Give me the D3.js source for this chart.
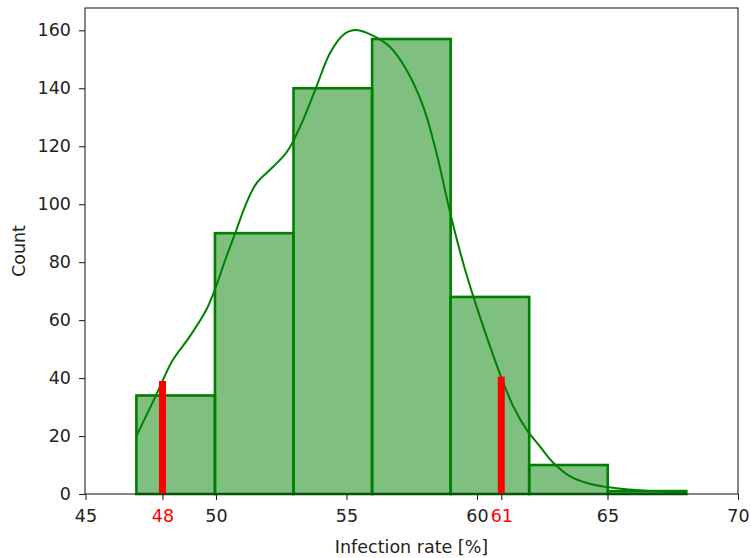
<!DOCTYPE html>
<html>
<head>
<meta charset="utf-8">
<script src="https://cdn.jsdelivr.net/npm/d3@7"></script>
<style>
  body { margin: 0; background: #fff; }
  text { font-family: 'DejaVu Sans', sans-serif; }
</style>
</head>
<body>
<div id="chart"></div>
<script>
'use strict'

// Histogram bins (edges) and counts
//-----------------------------------
var bin_edges = [46.95, 49.96, 52.97, 55.98, 58.99, 62.0, 65.01, 68.02]
var bin_counts = [34, 90, 140, 157, 68, 10, 1]

// KDE curve
//---------------------------------
var kde_x = [46.95, 47.71, 47.97, 48.35, 48.99, 49.63, 49.95, 50.40, 50.78, 51.16, 51.55, 52.06,
  52.57, 52.82, 53.34, 53.85, 54.36, 54.87, 55.32, 55.89, 56.66, 57.30, 57.94, 58.45,
  58.96, 59.47, 59.86, 60.37, 60.94, 61.39, 61.90, 62.41, 62.93, 63.57, 64.21, 64.97,
  65.5, 66.2, 67.0, 68.02]
var kde_y = [20, 34.2, 39.4, 46.3, 54.3, 63.6, 70.4, 81.9, 91.1, 100.3, 107.2, 111.8,
  116.4, 119.5, 129.1, 140.6, 152, 158.4, 160.1, 158.7, 154.3, 146.3, 133.7, 117.6,
  97.5, 79.7, 68.1, 54.3, 40.0, 30.2, 22.2, 16.4, 10.7, 6.1, 3.8, 2.4,
  1.8, 1.3, 0.9, 0.6]

// Red markers (labelled rounded on the x axis)
//----------------------------------------------
var mark_x = [47.95, 60.93]
var mark_y = [39, 40.5]

// Ticks
//-------
var x_ticks = [45, 50, 55, 60, 65, 70]
var y_ticks = [0, 20, 40, 60, 80, 100, 120, 140, 160]

var W = 751, H = 558
var margin = {top: 8, right: 13, bottom: 64, left: 85}
var width = W - margin.left - margin.right
var height = H - margin.top - margin.bottom
var font_size = '17.5px'

var svg = d3.select('#chart').append('svg')
  .attr('width', W)
  .attr('height', H)

var g = svg.append('g')
  .attr('transform', 'translate(' + margin.left + ',' + margin.top + ')')

var scale_x = d3.scaleLinear()
  .domain([45, 70])
  .range([0.5, width])

var scale_y = d3.scaleLinear()
  .domain([0, 167.7])
  .range([height, 0])

// Bars
//------
var bins = bin_counts.map(function(c, i) { return [bin_edges[i], bin_edges[i + 1], c] })

g.selectAll('rect.bar')
  .data(bins)
  .enter().append('rect')
  .attr('class', 'bar')
  .attr('x', function(d) { return scale_x(d[0]) })
  .attr('width', function(d) { return scale_x(d[1]) - scale_x(d[0]) })
  .attr('y', function(d) { return scale_y(d[2]) })
  .attr('height', function(d) { return scale_y(0) - scale_y(d[2]) })
  .style('fill', 'rgba(0,128,0,0.5)')
  .style('stroke', '#008000')
  .style('stroke-width', 2.6)

// KDE line
//----------
var line = d3.line()
  .x(function(d) { return scale_x(d[0]) })
  .y(function(d) { return scale_y(d[1]) })
  .curve(d3.curveCatmullRom.alpha(0.5))

g.append('path')
  .datum(kde_x.map(function(x, i) { return [x, kde_y[i]] }))
  .attr('d', line)
  .style('fill', 'none')
  .style('stroke', '#008000')
  .style('stroke-width', 2)

// Red marker bars
//-----------------
g.selectAll('rect.mark')
  .data(mark_x.map(function(x, i) { return [x, mark_y[i]] }))
  .enter().append('rect')
  .attr('class', 'mark')
  .attr('x', function(d) { return scale_x(d[0]) - 3.5 })
  .attr('width', 7)
  .attr('y', function(d) { return scale_y(d[1]) })
  .attr('height', function(d) { return scale_y(0) - scale_y(d[1]) })
  .style('fill', '#ff0000')

// Axes
//------
var x_axis = g.append('g')
  .attr('transform', 'translate(0,' + height + ')')
  .call(d3.axisBottom(scale_x).tickValues(x_ticks.concat(mark_x)).tickSize(6).tickPadding(10)
    .tickFormat(d3.format('.0f')))
x_axis.select('.domain').remove()
x_axis.selectAll('text')
  .style('font-size', font_size)
  .style('fill', function(d) { return mark_x.indexOf(d) >= 0 ? '#ff0000' : '#222' })
x_axis.selectAll('line').style('stroke', '#222').style('stroke-width', 1.1)

var y_axis = g.append('g')
  .call(d3.axisLeft(scale_y).tickValues(y_ticks).tickSize(6).tickPadding(8))
y_axis.select('.domain').remove()
y_axis.selectAll('text').style('font-size', font_size).style('fill', '#222')
y_axis.selectAll('line').style('stroke', '#222').style('stroke-width', 1.1)

// Frame
g.append('rect')
  .attr('x', 0)
  .attr('y', 0)
  .attr('width', width)
  .attr('height', height)
  .style('fill', 'none')
  .style('stroke', '#222')
  .style('stroke-width', 1.1)

// Axis labels
g.append('text')
  .attr('x', width / 2)
  .attr('y', height + 59)
  .attr('text-anchor', 'middle')
  .style('font-size', font_size)
  .style('fill', '#222')
  .text('Infection rate [%]')

g.append('text')
  .attr('transform', 'translate(' + (-60) + ',' + (height / 2) + ') rotate(-90)')
  .attr('text-anchor', 'middle')
  .style('font-size', font_size)
  .style('fill', '#222')
  .text('Count')
</script>
</body>
</html>
